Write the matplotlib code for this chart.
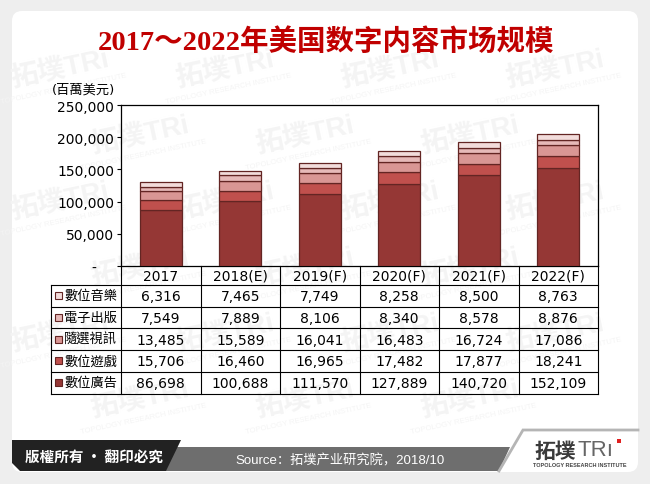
import matplotlib
matplotlib.use("Agg")
import matplotlib.pyplot as plt
from matplotlib.patches import Rectangle, Polygon, FancyBboxPatch

# ---------------- data ----------------
years = ["2017", "2018(E)", "2019(F)", "2020(F)", "2021(F)", "2022(F)"]
series_names = ["數位廣告", "數位遊戲", "隨選視訊", "電子出版", "數位音樂"]  # stack order bottom->top
digital_ads = [86698, 100688, 111570, 127889, 140720, 152109]
digital_games = [15706, 16460, 16965, 17482, 17877, 18241]
vod = [13485, 15589, 16041, 16483, 16724, 17086]
e_publishing = [7549, 7889, 8106, 8340, 8578, 8876]
digital_music = [6316, 7465, 7749, 8258, 8500, 8763]
series_values = [digital_ads, digital_games, vod, e_publishing, digital_music]
colors = ["#953735", "#c0504d", "#d99694", "#e6b9b8", "#f2dcdb"]
edge = "#632523"
yticks = [0, 50000, 100000, 150000, 200000, 250000]
ytick_labels = ["-    ", "50,000", "100,000", "150,000", "200,000", "250,000"]
title = "2017～2022年美国数字内容市场规模"
unit_label = "(百萬美元)"
footer_left = "版權所有 · 翻印必究"
footer_source = "Source：拓墣产业研究院，2018/10"

CJK = ["DejaVu Sans", "Noto Sans CJK TC"]
CJK_SC = ["Liberation Sans", "Noto Sans CJK SC"]

W, H = 650, 485
fig = plt.figure(figsize=(6.5, 4.85), dpi=100)
fig.patch.set_facecolor("#eeeeee")

# background axes in pixel coordinates
bg = fig.add_axes([0, 0, 1, 1])
bg.set_xlim(0, W)
bg.set_ylim(H, 0)
bg.axis("off")
bg.set_zorder(0)

panel = FancyBboxPatch((12, 12), 626, 461, boxstyle="round,pad=0,rounding_size=10",
                       fc="white", ec="none")
bg.add_patch(panel)

# faint watermark (kept inside the panel)
for row in range(7):
    for col in range(6):
        x = 60 + col * 165 + (row % 2) * 80
        y = 70 + row * 66
        if x > 580 or y > 420:
            continue
        bg.text(x, y, "拓墣TRi", family=["Liberation Sans", "Noto Sans CJK SC"],
                fontsize=20, fontweight="bold", color="#f4f4f4", rotation=12,
                ha="center", va="center", zorder=1)
        bg.text(x + 4, y + 19, "TOPOLOGY RESEARCH INSTITUTE", family="Liberation Sans",
                fontsize=5.5, color="#f4f4f4", rotation=12, ha="center", va="center", zorder=1)

# title
bg.text(326, 42, title, ha="center", va="center", fontsize=20.5, color="#c00000",
        fontweight="bold", family=["Liberation Serif", "Noto Sans CJK SC"], zorder=3)
bg.text(52, 90, unit_label, ha="left", va="center", fontsize=9.5, family=CJK, zorder=3)

# footer
bg.add_patch(Polygon([(160, 448), (510, 448), (499, 472), (160, 472)], closed=True,
                     fc="#6e6e6e", ec="none", zorder=2))
bg.add_patch(Polygon([(12, 441), (181, 441), (166, 472), (20, 472), (12, 464)], closed=True,
                     fc="#222222", ec="none", zorder=3))
bg.plot([499, 523, 638], [472, 431, 431], color="#b5b5b5", lw=2, zorder=2,
        solid_joinstyle="miter")
bg.text(25, 457, footer_left, ha="left", va="center", fontsize=10.5, color="white",
        fontweight="bold", family=["Noto Sans CJK TC"], zorder=4)
bg.text(340, 461, footer_source, ha="center", va="center", fontsize=9.5, color="white",
        family=CJK_SC, zorder=4)
bg.text(534, 451, "拓墣", ha="left", va="center", fontsize=15, color="#3a3a3a",
        fontweight="bold", family=["Noto Sans CJK SC"], zorder=4)
bg.text(578, 451, "TRı", ha="left", va="center", fontsize=16, color="#666666",
        family=["Liberation Sans"], zorder=4)
bg.add_patch(Rectangle((617, 440), 4, 4, fc="#e02020", ec="none", zorder=5))
bg.text(580, 466, "TOPOLOGY RESEARCH INSTITUTE", ha="center", va="center", fontsize=4,
        color="#444444", family="Liberation Sans", fontweight="bold", zorder=4)

# ---------------- chart axes ----------------
ax_l, ax_t, ax_r, ax_b = 121, 106, 598, 267
ax = fig.add_axes([ax_l / W, 1 - ax_b / H, (ax_r - ax_l) / W, (ax_b - ax_t) / H])
ax.set_zorder(5)
ax.patch.set_alpha(0)
n = len(years)
x = list(range(n))
bottom = [0] * n
for vals, c in zip(series_values, colors):
    ax.bar(x, vals, bottom=bottom, width=0.53, color=c, edgecolor=edge, linewidth=0.9, zorder=3)
    bottom = [b + v for b, v in zip(bottom, vals)]
ax.set_xlim(-0.5, n - 0.5)
ax.set_ylim(0, 250000)
ax.set_xticks([])
ax.set_yticks(yticks)
ax.set_yticklabels(ytick_labels, family=CJK, fontsize=10)
ax.tick_params(axis="y", length=3, width=0.8, direction="out", pad=2)
for s in ax.spines.values():
    s.set_linewidth(0.9)
    s.set_color("black")

# ---------------- data table ----------------
colw = (ax_r - ax_l) / n
row_edges = [ax_b, 286, 307.7, 329.4, 351.1, 372.8, 394.5]
lab_l = 51
lc = "black"
lw = 0.8
for i in range(n + 1):
    xx = ax_l + i * colw
    bg.plot([xx, xx], [ax_b, row_edges[-1]], color=lc, lw=lw, zorder=6)
bg.plot([lab_l, lab_l], [row_edges[1], row_edges[-1]], color=lc, lw=lw, zorder=6)
for yy in row_edges[1:]:
    bg.plot([lab_l, ax_r], [yy, yy], color=lc, lw=lw, zorder=6)
for i, yr in enumerate(years):
    bg.text(ax_l + (i + 0.5) * colw, (row_edges[0] + row_edges[1]) / 2 + 0.5, yr,
            ha="center", va="center", fontsize=10, family=CJK, zorder=7)
table_rows = list(zip(series_names, series_values, colors))[::-1]
for r, (name, vals, c) in enumerate(table_rows):
    yc = (row_edges[r + 1] + row_edges[r + 2]) / 2
    bg.add_patch(Rectangle((55, yc - 3.5), 7, 7, fc=c, ec=edge, lw=0.8, zorder=7))
    bg.text(64, yc, name, ha="left", va="center", fontsize=9.5,
            family=["Noto Sans CJK TC"], zorder=7)
    for i, v in enumerate(vals):
        bg.text(ax_l + (i + 0.5) * colw, yc + 0.5, f"{v:,}", ha="center", va="center",
                fontsize=10, family=CJK, zorder=7)

fig.savefig("out.png", dpi=100, facecolor=fig.get_facecolor())
